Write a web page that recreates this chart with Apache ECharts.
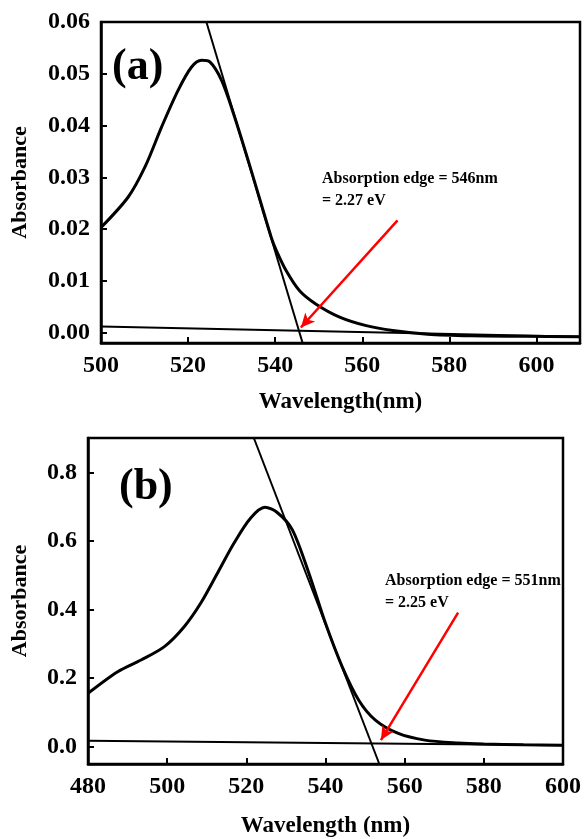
<!DOCTYPE html>
<html>
<head>
<meta charset="utf-8">
<script src="https://cdn.jsdelivr.net/npm/echarts@6/dist/echarts.min.js"></script>
<style>
html,body{margin:0;padding:0;background:#fff;}
#c{width:584px;height:839px;}
</style>
</head>
<body>
<div id="c"></div>
<script>
// ---- Panel (a) data ----
const waveA = [500, 506.25, 510.1, 513.9, 517.7, 520.8, 523.1, 525.0, 527.7, 530.7, 534.5, 539.1, 540.25, 542.5, 545.6, 549.4, 554.8, 560.9, 567, 575, 585, 597, 610];
const absA  = [0.0203, 0.0262, 0.0320, 0.0397, 0.0468, 0.0513, 0.0526, 0.0523, 0.0487, 0.0416, 0.0313, 0.0184, 0.0159, 0.0120, 0.0081, 0.0055, 0.0030, 0.00135, 0.0004, -0.0003, -0.0006, -0.0007, -0.0008];
const tangentAx = [524.2, 546.3];
const tangentAy = [0.06, -0.002];
const baseAx = [500, 610];
const baseAy = [0.0012, -0.0008];
const arrowAx = [568.1, 545.9];
const arrowAy = [0.0217, 0.001];
const xTicksA = [500, 520, 540, 560, 580, 600];
const yTicksA = [0, 0.01, 0.02, 0.03, 0.04, 0.05, 0.06];

// ---- Panel (b) data ----
const waveB = [480, 487.5, 493.4, 499.3, 504.3, 508.5, 512.7, 516.9, 521.1, 524.7, 527.8, 531.6, 535.8, 540, 544.2, 548.4, 552.6, 558.4, 565.1, 573.5, 580, 590, 600];
const absB  = [0.156, 0.219, 0.253, 0.292, 0.350, 0.419, 0.506, 0.594, 0.667, 0.698, 0.683, 0.633, 0.506, 0.360, 0.234, 0.136, 0.078, 0.039, 0.0196, 0.011, 0.008, 0.006, 0.005];
const tangentBx = [521.9, 553.6];
const tangentBy = [0.9, -0.05];
const baseBx = [480, 600];
const baseBy = [0.0175, 0.005];
const arrowBx = [573.5, 554.0];
const arrowBy = [0.391, 0.0196];
const xTicksB = [480, 500, 520, 540, 560, 580, 600];
const yTicksB = [0, 0.2, 0.4, 0.6, 0.8];

const pairs = (xs, ys) => xs.map((x, i) => [x, ys[i]]);
const FONT = 'Liberation Serif';

function xAxis(idx, min, max, ticks, name, gap) {
  return {
    type: 'value', gridIndex: idx, min: min, max: max,
    name: name, nameLocation: 'middle', nameGap: gap,
    nameTextStyle: {fontFamily: FONT, fontWeight: 'bold', fontSize: 23, color: '#000'},
    axisLine: {show: true, onZero: false, lineStyle: {color: '#000', width: 2.5}},
    axisTick: {show: true, inside: true, length: 6, lineStyle: {color: '#000', width: 2}, customValues: ticks},
    axisLabel: {fontFamily: FONT, fontWeight: 'bold', fontSize: 24, color: '#000', margin: 11, customValues: ticks,
      formatter: v => String(Math.round(v))},
    splitLine: {show: false}
  };
}
function yAxis(idx, min, max, ticks, dec, name, gap) {
  return {
    type: 'value', gridIndex: idx, min: min, max: max,
    name: name, nameLocation: 'middle', nameGap: gap,
    nameTextStyle: {fontFamily: FONT, fontWeight: 'bold', fontSize: 22, color: '#000'},
    axisLine: {show: true, onZero: false, lineStyle: {color: '#000', width: 2.5}},
    axisTick: {show: true, inside: true, length: 6, lineStyle: {color: '#000', width: 2}, customValues: ticks},
    axisLabel: {fontFamily: FONT, fontWeight: 'bold', fontSize: 24, color: '#000', margin: 11, customValues: ticks,
      formatter: v => v.toFixed(dec)},
    splitLine: {show: false}
  };
}
function lineSeries(idx, data, width) {
  return {
    type: 'line', xAxisIndex: idx, yAxisIndex: idx, data: data,
    showSymbol: false, symbol: 'none', smooth: 0.3, clip: true,
    lineStyle: {color: '#000', width: width}
  };
}
function straight(idx, data, width, arrow) {
  const s = {
    type: 'line', xAxisIndex: idx, yAxisIndex: idx, data: data,
    showSymbol: false, symbol: 'none', clip: true,
    lineStyle: {color: '#000', width: width}
  };
  if (arrow) {
    s.markLine = {
      silent: true, symbol: ['none', 'arrow'], symbolSize: [10, 14],
      label: {show: false},
      lineStyle: {color: '#ff0000', width: 2.5, type: 'solid'},
      data: [[{coord: arrow[0]}, {coord: arrow[1]}]]
    };
  }
  return s;
}

const chart = echarts.init(document.getElementById('c'));
const textStyleAnn = {fontFamily: FONT, fontWeight: 'bold', fontSize: 16, fill: '#000'};
chart.setOption({
  animation: false,
  backgroundColor: '#fff',
  grid: [
    {left: 101, top: 22, right: 4, height: 321, show: true, borderColor: '#000', borderWidth: 2.5, backgroundColor: 'transparent'},
    {left: 88, top: 438, right: 19, height: 326, show: true, borderColor: '#000', borderWidth: 2.5, backgroundColor: 'transparent'}
  ],
  xAxis: [
    xAxis(0, 500, 610, xTicksA, 'Wavelength(nm)', 48),
    xAxis(1, 480, 600, xTicksB, 'Wavelength (nm)', 51)
  ],
  yAxis: [
    yAxis(0, -0.002, 0.06, yTicksA, 2, 'Absorbance', 70),
    yAxis(1, -0.05, 0.9, yTicksB, 1, 'Absorbance', 57)
  ],
  series: [
    lineSeries(0, pairs(waveA, absA), 3),
    straight(0, pairs(tangentAx, tangentAy), 2),
    straight(0, pairs(baseAx, baseAy), 2, [[arrowAx[0], arrowAy[0]], [arrowAx[1], arrowAy[1]]]),
    lineSeries(1, pairs(waveB, absB), 3),
    straight(1, pairs(tangentBx, tangentBy), 2),
    straight(1, pairs(baseBx, baseBy), 2, [[arrowBx[0], arrowBy[0]], [arrowBx[1], arrowBy[1]]])
  ],
  graphic: [
    {type: 'text', left: 112, top: 46, style: {text: '(a)', fontFamily: FONT, fontWeight: 'bold', fontSize: 44, fill: '#000'}},
    {type: 'text', left: 119, top: 466, style: {text: '(b)', fontFamily: FONT, fontWeight: 'bold', fontSize: 44, fill: '#000'}},
    {type: 'text', left: 322, top: 171, style: Object.assign({text: 'Absorption edge = 546nm'}, textStyleAnn)},
    {type: 'text', left: 322, top: 193, style: Object.assign({text: '= 2.27 eV'}, textStyleAnn)},
    {type: 'text', left: 385, top: 573, style: Object.assign({text: 'Absorption edge = 551nm'}, textStyleAnn)},
    {type: 'text', left: 385, top: 595, style: Object.assign({text: '= 2.25 eV'}, textStyleAnn)}
  ]
});
</script>
</body>
</html>
